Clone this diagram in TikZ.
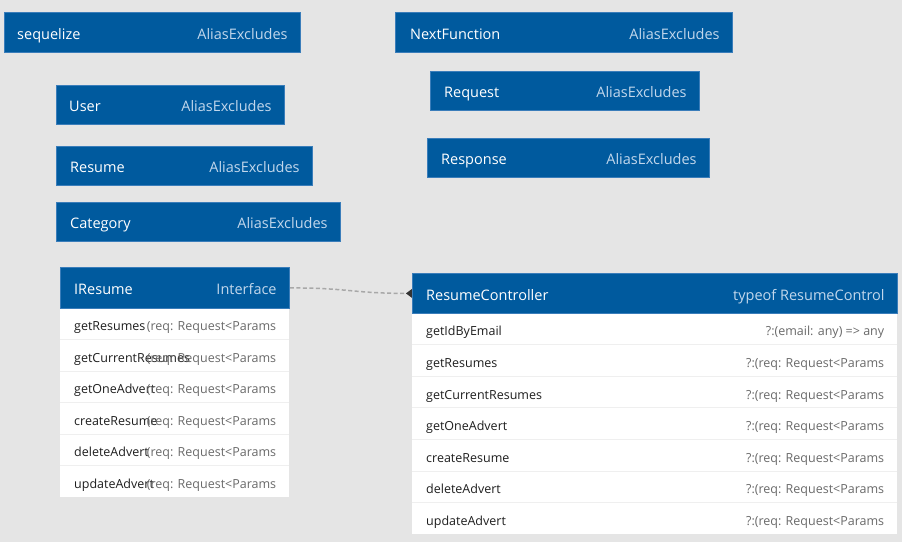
\documentclass[tikz,border=0pt]{standalone}
\usepackage{fontspec}
\setmainfont{Open Sans}
\usetikzlibrary{arrows.meta}
\pgfdeclarelayer{back}
\pgfdeclarelayer{connlayer}
\pgfsetlayers{back,connlayer,main}
\definecolor{bgc}{HTML}{E5E5E5}
\definecolor{hblue}{HTML}{005A9E}
\definecolor{hedge}{HTML}{3A7DBA}
\definecolor{htypec}{HTML}{C2D7EC}
\definecolor{rnamec}{HTML}{1E1E1E}
\definecolor{rtypec}{HTML}{6A6A6A}
\definecolor{sepc}{HTML}{EFEFEF}
\definecolor{connc}{HTML}{A8A8A8}
\definecolor{tipc}{HTML}{333333}
\begin{document}
\begin{tikzpicture}[x=1pt,y=-1pt,
  hdrbox/.style={rectangle, anchor=north west, inner sep=0pt, fill=hblue, draw=hedge, line width=0.8pt},
  bodybox/.style={rectangle, anchor=north west, inner sep=0pt, fill=white},
  hname/.style={anchor=base west, inner sep=0pt, text=white, font=\fontsize{14.5}{17}\selectfont},
  htype/.style={anchor=base east, inner sep=0pt, text=htypec, font=\fontsize{14.5}{17}\selectfont},
  rname/.style={anchor=base west, inner sep=0pt, text=rnamec, font=\fontsize{12.5}{15}\selectfont},
  rtype/.style={anchor=base east, inner sep=0pt, text=rtypec, font=\fontsize{12.5}{15}\selectfont},
  sepline/.style={draw=sepc, line width=0.8pt},
  conn/.style={draw=connc, line width=1.5pt, dash pattern=on 4pt off 2.5pt}
]
\begin{pgfonlayer}{back}
\fill[bgc] (0,0) rectangle (902,542);
\end{pgfonlayer}
\useasboundingbox (0,0) rectangle (902,542);

% simple alias boxes
\node[hdrbox, minimum width=296pt, minimum height=40pt] (seq) at (4,12) {};
\node[hname] (seqN) at ([xshift=13pt,yshift=-7pt]seq.west) {sequelize};
\node[htype] (seqT) at ([xshift=-13pt,yshift=-7pt]seq.east) {AliasExcludes};

\node[hdrbox, minimum width=337pt, minimum height=40pt] (nxt) at (395,12) {};
\node[hname] (nxtN) at ([xshift=15pt,yshift=-7pt]nxt.west) {NextFunction};
\node[htype] (nxtT) at ([xshift=-13pt,yshift=-7pt]nxt.east) {AliasExcludes};

\node[hdrbox, minimum width=228pt, minimum height=39pt] (usr) at (56,85) {};
\node[hname] (usrN) at ([xshift=13pt,yshift=-7pt]usr.west) {User};
\node[htype] (usrT) at ([xshift=-13pt,yshift=-7pt]usr.east) {AliasExcludes};

\node[hdrbox, minimum width=269pt, minimum height=39pt] (req) at (430,71) {};
\node[hname] (reqN) at ([xshift=14pt,yshift=-7pt]req.west) {Request};
\node[htype] (reqT) at ([xshift=-13pt,yshift=-7pt]req.east) {AliasExcludes};

\node[hdrbox, minimum width=256pt, minimum height=39pt] (res) at (56,146) {};
\node[hname] (resN) at ([xshift=14pt,yshift=-7pt]res.west) {Resume};
\node[htype] (resT) at ([xshift=-13pt,yshift=-7pt]res.east) {AliasExcludes};

\node[hdrbox, minimum width=282pt, minimum height=39pt] (rsp) at (427,138) {};
\node[hname] (rspN) at ([xshift=14pt,yshift=-7pt]rsp.west) {Response};
\node[htype] (rspT) at ([xshift=-13pt,yshift=-7pt]rsp.east) {AliasExcludes};

\node[hdrbox, minimum width=284pt, minimum height=39pt] (cat) at (56,202) {};
\node[hname] (catN) at ([xshift=14pt,yshift=-7pt]cat.west) {Category};
\node[htype] (catT) at ([xshift=-13pt,yshift=-7pt]cat.east) {AliasExcludes};

% IResume
\node[bodybox, minimum width=229pt, minimum height=189pt] (irB) at (60,308) {};
\foreach \k in {1,...,5} {
  \draw[sepline] ([yshift=-31.5*\k pt]irB.north west) -- ([yshift=-31.5*\k pt]irB.north east);
}
\node[hdrbox, minimum width=229pt, minimum height=41pt] (ir) at (60,267) {};
\node[hname] (irN) at ([xshift=14pt,yshift=-7pt]ir.west) {IResume};
\node[htype] (irT) at ([xshift=-13pt,yshift=-7pt]ir.east) {Interface};
\foreach \m [count=\i] in {getResumes,getCurrentResumes,getOneAdvert,createResume,deleteAdvert,updateAdvert} {
  \node[rname] (irR\i) at ([xshift=14pt,yshift=-31.5*\i pt+15.75pt-7pt]irB.north west) {\m};
  \node[rtype] (irRT\i) at ([xshift=-13pt,yshift=-31.5*\i pt+15.75pt-7pt]irB.north east) {(req: Request<Params};
}

% ResumeController
\node[bodybox, minimum width=485pt, minimum height=221.2pt] (rcB) at (412,313) {};
\foreach \k in {1,...,6} {
  \draw[sepline] ([yshift=-31.6*\k pt]rcB.north west) -- ([yshift=-31.6*\k pt]rcB.north east);
}
\node[hdrbox, minimum width=485pt, minimum height=40pt] (rc) at (412,273) {};
\node[hname] (rcN) at ([xshift=14pt,yshift=-7pt]rc.west) {ResumeController};
\node[htype] (rcT) at ([xshift=-13pt,yshift=-7pt]rc.east) {typeof ResumeControl};
\node[rname] (rcR1) at ([xshift=14pt,yshift=-31.6pt+15.8pt-7pt]rcB.north west) {getIdByEmail};
\node[rtype] (rcRT1) at ([xshift=-13pt,yshift=-31.6pt+15.8pt-7pt]rcB.north east) {?:(email: any) => any};
\foreach \m [count=\i from 2] in {getResumes,getCurrentResumes,getOneAdvert,createResume,deleteAdvert,updateAdvert} {
  \node[rname] (rcR\i) at ([xshift=14pt,yshift=-31.6*\i pt+15.8pt-7pt]rcB.north west) {\m};
  \node[rtype] (rcRT\i) at ([xshift=-13pt,yshift=-31.6*\i pt+15.8pt-7pt]rcB.north east) {?:(req: Request<Params};
}

% connector (behind the boxes, so the diamond is half hidden)
\begin{pgfonlayer}{connlayer}
\draw[conn, shorten >=-6pt, -{Diamond[length=12pt,width=9pt,color=tipc,fill=tipc]}]
  (ir.east) .. controls +(60,0) and +(-60,0) .. (rc.west);
\end{pgfonlayer}
\end{tikzpicture}
\end{document}
